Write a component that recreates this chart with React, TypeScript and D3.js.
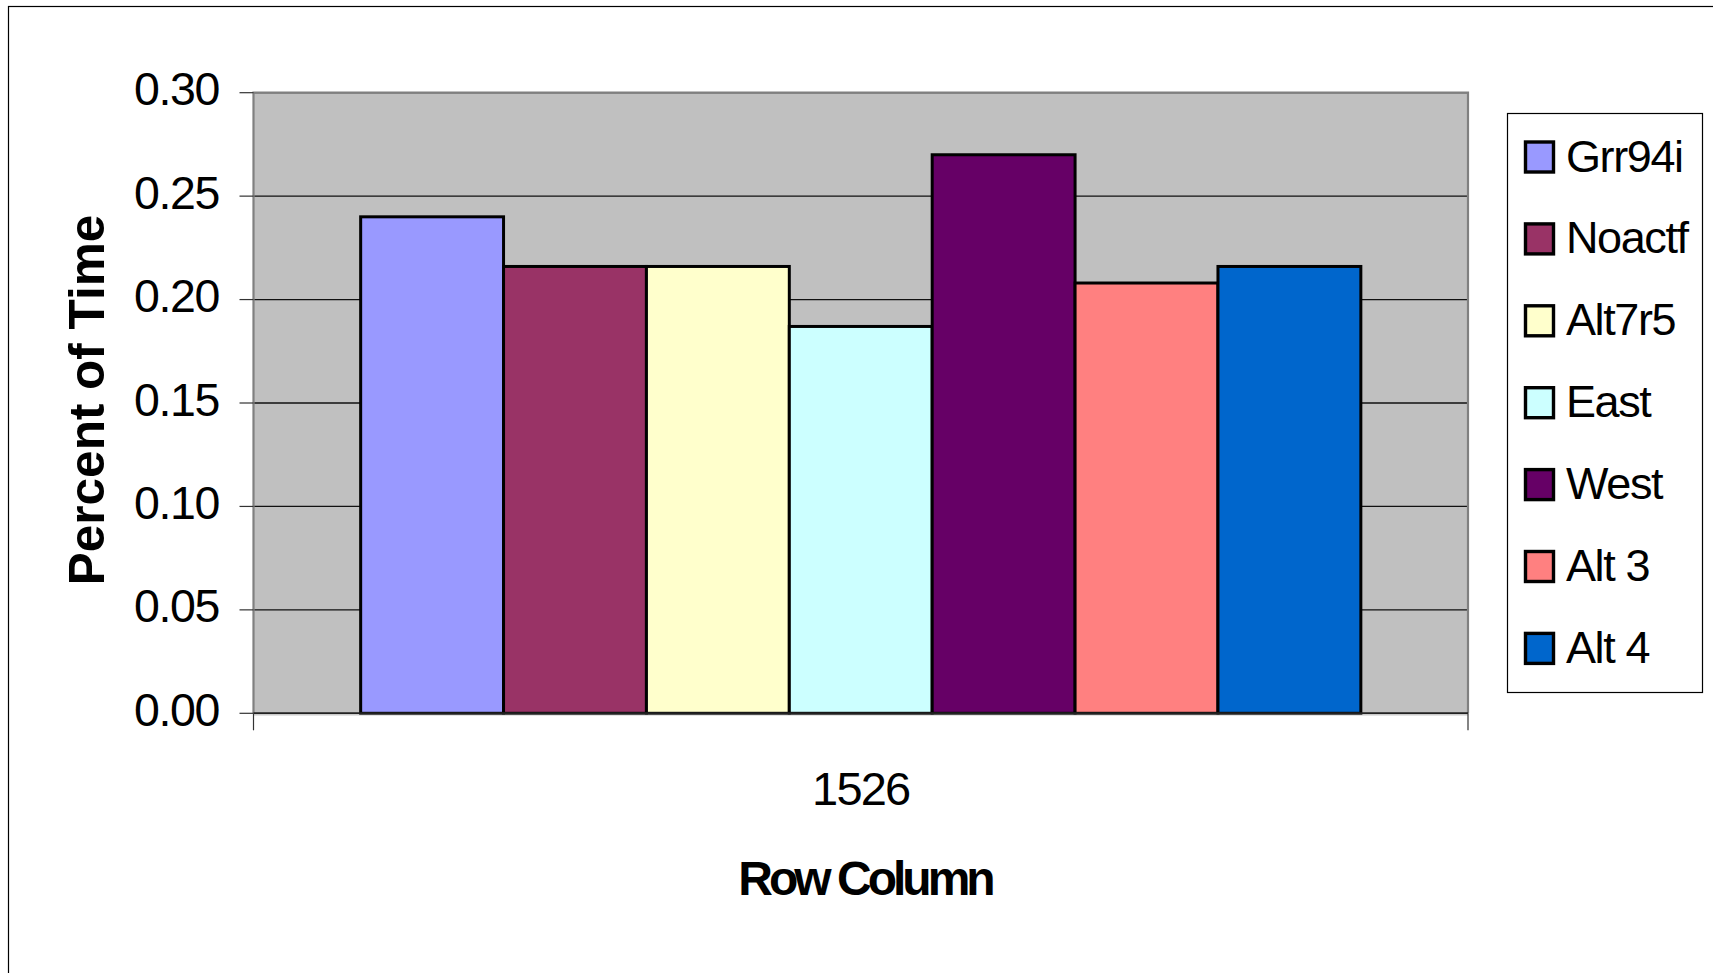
import React from "react";
import * as d3 from "d3";

const categories = ["1526"];
const seriesNames = ["Grr94i", "Noactf", "Alt7r5", "East", "West", "Alt 3", "Alt 4"];
const seriesValues = [0.24, 0.216, 0.216, 0.187, 0.27, 0.208, 0.216];
const seriesColors = ["#9999FF", "#993366", "#FFFFCC", "#CCFFFF", "#660066", "#FF8080", "#0066CC"];
const yTicks = [0, 0.05, 0.1, 0.15, 0.2, 0.25, 0.3];

const W = 1713;
const H = 973;
const plot = { left: 253.5, right: 1468, top: 92.7, bottom: 713.3 };
const FONT = "'Liberation Sans', Arial, sans-serif";

export default function App() {
  const y = d3.scaleLinear().domain([0, 0.3]).range([plot.bottom, plot.top]);
  const x0 = d3.scaleBand<string>().domain(categories).range([plot.left, plot.right]).paddingInner(0).paddingOuter(0);
  const x1 = d3
    .scaleBand<string>()
    .domain(seriesNames)
    .range([0, x0.bandwidth()])
    .paddingInner(0)
    .paddingOuter(0.75);

  const legend = { x: 1507.5, y: 113.5, w: 195, h: 579, first: 156.5, step: 81.9 };

  return (
    <svg
      width={W}
      height={H}
      style={{ position: "fixed", left: 0, top: 0, background: "#fff" }}
      fontFamily={FONT}
    >
      <rect x={0} y={0} width={W} height={H} fill="#fff" />
      <rect x={8.5} y={6.5} width={W + 20} height={H + 20} fill="none" stroke="#000" strokeWidth={1.2} />

      {/* plot area */}
      <rect
        x={plot.left}
        y={plot.top}
        width={plot.right - plot.left}
        height={plot.bottom - plot.top}
        fill="#C0C0C0"
      />
      {/* gridlines */}
      {yTicks.slice(1).map((t) => (
        <line key={"g" + t} x1={plot.left} x2={plot.right} y1={y(t)} y2={y(t)} stroke="#111" strokeWidth={1.3} />
      ))}
      {/* plot border gray */}
      <path
        d={`M${plot.left},${plot.bottom} V${plot.top} H${plot.right} V${plot.bottom}`}
        fill="none"
        stroke="#808080"
        strokeWidth={2.2}
      />

      {/* bars */}
      {categories.map((c) =>
        seriesNames.map((s, i) => (
          <rect
            key={c + s}
            x={(x0(c) as number) + (x1(s) as number)}
            y={y(seriesValues[i])}
            width={x1.bandwidth()}
            height={y(0) - y(seriesValues[i])}
            fill={seriesColors[i]}
            stroke="#000"
            strokeWidth={3}
          />
        ))
      )}

      {/* x axis line */}
      <line x1={plot.left} x2={plot.right} y1={plot.bottom} y2={plot.bottom} stroke="#222" strokeWidth={2} />
      <line x1={plot.left} x2={plot.right} y1={plot.bottom + 2} y2={plot.bottom + 2} stroke="#ddd" strokeWidth={1} />
      {/* x ticks at category bounds */}
      {[plot.left, plot.right].map((xx) => (
        <line key={"xt" + xx} x1={xx} x2={xx} y1={plot.bottom} y2={plot.bottom + 17} stroke="#333" strokeWidth={1.2} />
      ))}
      {/* y ticks */}
      {yTicks.map((t) => (
        <g key={"yt" + t}>
          <line x1={plot.left - 14} x2={plot.left} y1={y(t)} y2={y(t)} stroke="#333" strokeWidth={1.2} />
          <text
            x={219}
            y={y(t) + 12.5}
            textAnchor="end"
            fontSize={46.5}
            letterSpacing={-1.4}
            fill="#000"
          >
            {t.toFixed(2)}
          </text>
        </g>
      ))}

      {/* category label */}
      {categories.map((c) => (
        <text
          key={"cl" + c}
          x={(x0(c) as number) + x0.bandwidth() / 2}
          y={805}
          textAnchor="middle"
          fontSize={47}
          letterSpacing={-1.8}
          fill="#000"
        >
          {c}
        </text>
      ))}

      {/* axis titles */}
      <text
        x={865}
        y={895}
        textAnchor="middle"
        fontSize={48}
        fontWeight="bold"
        letterSpacing={-4}
        fill="#000"
      >
        Row Column
      </text>
      <text
        transform={`translate(104,400) rotate(-90)`}
        textAnchor="middle"
        fontSize={49.5}
        fontWeight="bold"
        letterSpacing={0}
        fill="#000"
      >
        Percent of Time
      </text>

      {/* legend */}
      <rect x={legend.x} y={legend.y} width={legend.w} height={legend.h} fill="#fff" stroke="#000" strokeWidth={1.2} />
      {seriesNames.map((s, i) => {
        const cy = legend.first + i * legend.step;
        return (
          <g key={"lg" + s}>
            <rect x={1525.5} y={cy - 14.5} width={28} height={30} fill={seriesColors[i]} stroke="#000" strokeWidth={3.4} />
            <text x={1566} y={cy + 15} fontSize={45} letterSpacing={-1.4} fill="#000">
              {s}
            </text>
          </g>
        );
      })}
    </svg>
  );
}
